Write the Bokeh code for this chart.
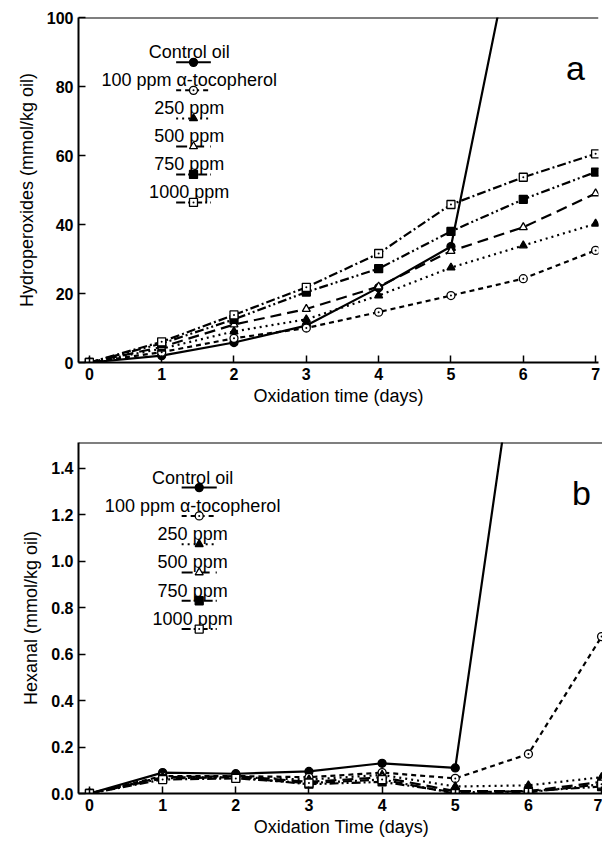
from bokeh.plotting import figure
from bokeh.layouts import column
from bokeh.models import Range1d, Span, FixedTicker, Label, NumeralTickFormatter
from bokeh.core.properties import value
from bokeh.embed import file_html
from bokeh.resources import INLINE

FONT = "Liberation Sans"

days = [0, 1, 2, 3, 4, 5, 6, 7]
control_days = [0, 1, 2, 3, 4, 5, 6]

series_names = ["Control oil", "100 ppm \u03b1-tocopherol", "250 ppm", "500 ppm", "750 ppm", "1000 ppm"]

# Panel a: hydroperoxides (mmol/kg oil)
hp_control = [0, 2.0, 5.8, 10.7, 21.7, 33.6, 137.0]
hp_100 = [0, 3.0, 7.0, 10.0, 14.6, 19.4, 24.3, 32.5]
hp_250 = [0, 4.0, 9.0, 12.5, 19.4, 27.5, 33.9, 40.2]
hp_500 = [0, 4.5, 11.0, 15.5, 22.0, 32.3, 39.2, 49.0]
hp_750 = [0, 5.5, 12.5, 20.4, 27.2, 38.0, 47.3, 55.2]
hp_1000 = [0, 6.0, 13.8, 21.8, 31.6, 45.8, 53.7, 60.5]

# Panel b: hexanal (mmol/kg oil)
hx_control = [0, 0.09, 0.085, 0.095, 0.13, 0.11, 2.3]
hx_100 = [0, 0.075, 0.075, 0.07, 0.09, 0.065, 0.17, 0.675]
hx_250 = [0, 0.07, 0.07, 0.06, 0.08, 0.03, 0.035, 0.07]
hx_500 = [0, 0.07, 0.075, 0.05, 0.07, 0.01, 0.01, 0.05]
hx_750 = [0, 0.065, 0.07, 0.04, 0.05, 0.005, 0.01, 0.03]
hx_1000 = [0, 0.06, 0.065, 0.045, 0.06, 0.0, 0.005, 0.04]

hp_ticks = [0, 20, 40, 60, 80, 100]
hx_ticks = [0.0, 0.2, 0.4, 0.6, 0.8, 1.0, 1.2, 1.4]

styles = [
    dict(dash="solid", marker="circle", fill="black", lw=2.2),
    dict(dash="5 4", marker="circle_dot", fill="white", lw=2.2),
    dict(dash="2 4", marker="triangle", fill="black", lw=2.2),
    dict(dash="11 6", marker="triangle", fill="white", lw=2.2),
    dict(dash="9 3 2 3 2 3", marker="square", fill="black", lw=2.2),
    dict(dash="9 3 2 3", marker="square_dot", fill="white", lw=2.2),
]


def make_panel(ys, xlabel, ylabel, yend, ticks, fmt, letter, leg,
               border_left, frame_w, frame_h, border_top, border_bottom):
    p = figure(output_backend="svg", toolbar_location=None,
               frame_width=frame_w, frame_height=frame_h,
               x_range=Range1d(-0.15, 7.04), y_range=Range1d(0, yend),
               min_border_left=border_left, min_border_right=4,
               min_border_top=border_top, min_border_bottom=border_bottom)
    p.outline_line_color = None
    p.grid.visible = False
    for ax in (p.xaxis, p.yaxis):
        ax.axis_line_width = 2
        ax.axis_line_color = "black"
        ax.major_tick_in = 7
        ax.major_tick_out = 0
        ax.major_tick_line_width = 1.5
        ax.minor_tick_line_color = None
        ax.major_label_text_font = FONT
        ax.major_label_text_font_style = "bold"
        ax.major_label_text_font_size = "16px"
        ax.major_label_text_color = "black"
        ax.axis_label_text_font = FONT
        ax.axis_label_text_font_style = "normal"
        ax.axis_label_text_font_size = "18px"
        ax.axis_label_text_color = "black"
    p.xaxis.ticker = FixedTicker(ticks=days)
    p.yaxis.ticker = FixedTicker(ticks=ticks)
    p.yaxis.formatter = NumeralTickFormatter(format=fmt)
    p.xaxis.axis_label = xlabel
    p.yaxis.axis_label = ylabel
    p.xaxis.major_label_standoff = 5
    p.yaxis.major_label_standoff = 5
    p.xaxis.axis_label_standoff = 3
    p.yaxis.axis_label_standoff = 7
    p.add_layout(Span(location=yend, dimension="width", line_color="black", line_width=2))

    for i, (yy, st) in enumerate(zip(ys, styles)):
        xx = control_days if i == 0 else days
        p.line(xx, yy, line_color="black", line_width=st["lw"], line_dash=st["dash"])
        p.scatter(xx, yy, marker=st["marker"], size=8, line_color="black",
                  line_width=1.3, fill_color=st["fill"])

    # legend: label with sample line underneath
    tx, y0, step, off, sx0, sx1, mx = leg
    for i, (name, st) in enumerate(zip(series_names, styles)):
        ty = y0 - i * step
        p.text([tx], [ty], text=[name], text_align="center", text_baseline="middle",
               text_font=value(FONT), text_font_size="18px", text_color="black")
        p.line([sx0, sx1], [ty - off, ty - off], line_color="black",
               line_width=2, line_dash=st["dash"])
        p.scatter([mx], [ty - off], marker=st["marker"], size=8, line_color="black",
                  line_width=1.3, fill_color=st["fill"])

    p.add_layout(Label(x=frame_w - 23, y=frame_h - 50, x_units="screen", y_units="screen",
                       text=letter, text_font=FONT, text_font_size="34px",
                       text_align="center", text_baseline="middle", text_color="black"))
    return p


pa = make_panel([hp_control, hp_100, hp_250, hp_500, hp_750, hp_1000],
                "Oxidation time (days)", "Hydroperoxides (mmol/kg oil)", 100, hp_ticks, "0",
                "a", (1.38, 89.9, 8.12, 2.9, 1.2, 1.68, 1.44),
                78, 520, 345, 17, 46)
pb = make_panel([hx_control, hx_100, hx_250, hx_500, hx_750, hx_1000],
                "Oxidation Time (days)", "Hexanal (mmol/kg oil)", 1.51, hx_ticks, "0.0",
                "b", (1.41, 1.359, 0.1217, 0.043, 1.26, 1.74, 1.5),
                72, 526, 351, 34, 46)

layout = column(pa, pb, spacing=0)
open("out.html", "w").write(file_html(layout, INLINE))
